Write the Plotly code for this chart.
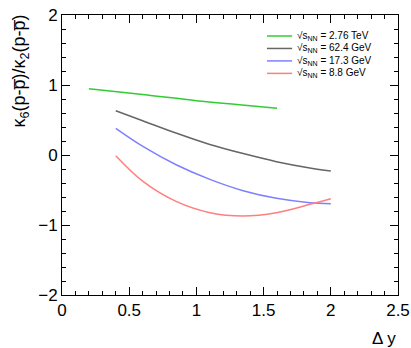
import plotly.graph_objects as go

# data
dy_green = [0.2, 0.6, 1.0, 1.3, 1.6]
k_green = [0.947, 0.865, 0.775, 0.72, 0.667]

dy_gray = [0.4, 0.605, 0.853, 1.1, 1.348, 1.596, 1.844, 2.0]
k_gray = [0.633, 0.486, 0.31, 0.15, 0.02, -0.095, -0.185, -0.229]

dy_blue = [0.4, 0.605, 0.853, 1.1, 1.348, 1.596, 1.844, 2.0]
k_blue = [0.381, 0.119, -0.143, -0.348, -0.51, -0.619, -0.681, -0.695]

dy_red = [0.4, 0.605, 0.853, 1.1, 1.348, 1.596, 1.844, 2.0]
k_red = [-0.01, -0.381, -0.667, -0.824, -0.871, -0.824, -0.705, -0.624]

labels = ["√s<sub>NN</sub> = 2.76 TeV", "√s<sub>NN</sub> = 62.4 GeV",
          "√s<sub>NN</sub> = 17.3 GeV", "√s<sub>NN</sub> = 8.8 GeV"]
colors = ["#33cc33", "#666666", "#7f7fff", "#ff7f7f"]
xs_all = [dy_green, dy_gray, dy_blue, dy_red]
ys_all = [k_green, k_gray, k_blue, k_red]

fig = go.Figure()
for name, xs, ys, col in zip(labels, xs_all, ys_all, colors):
    fig.add_trace(go.Scatter(
        x=xs, y=ys, mode="lines", name=name, showlegend=False,
        line=dict(color=col, width=1.5, shape="spline", smoothing=1.0),
    ))

# hand-built legend (ROOT style, tight rows)
leg_y0, leg_step = 0.925, 0.0445
for i, (name, col) in enumerate(zip(labels, colors)):
    yy = leg_y0 - i * leg_step
    fig.add_shape(type="line", xref="paper", yref="paper",
                  x0=0.610, x1=0.685, y0=yy, y1=yy,
                  line=dict(color=col, width=1.5))
    fig.add_annotation(text=name, xref="paper", yref="paper",
                       x=0.693, y=yy, xanchor="left", yanchor="middle",
                       showarrow=False, font=dict(size=10, color="black"))

axis_common = dict(
    showgrid=False, zeroline=False, showline=True, linecolor="black",
    linewidth=1, mirror="allticks", ticks="inside", ticklen=8,
    tickcolor="black", tickfont=dict(size=17, color="black"),
    automargin=False,
)

fig.update_xaxes(
    range=[0, 2.5], tick0=0, dtick=0.5, **axis_common,
    minor=dict(ticks="inside", ticklen=4, dtick=0.1, tickcolor="black"),
)
fig.update_yaxes(
    range=[-2, 2], tick0=-2, dtick=1, **axis_common,
    minor=dict(ticks="inside", ticklen=4, dtick=0.2, tickcolor="black"),
)

fig.add_annotation(
    text="κ<sub>6</sub>(p-p\u0305)/κ<sub>2</sub>(p-p\u0305)",
    xref="paper", yref="paper", x=-0.122, y=1.007,
    xanchor="center", yanchor="top", textangle=-90,
    showarrow=False, font=dict(size=18, color="black"),
)
fig.add_annotation(
    text="Δ y", xref="paper", yref="paper", x=1.0, y=-0.115,
    xanchor="right", yanchor="top", showarrow=False,
    font=dict(size=17, color="black"),
)

fig.update_layout(
    width=411, height=348,
    paper_bgcolor="white", plot_bgcolor="white",
    font=dict(family="Liberation Sans, Arial, sans-serif", color="black"),
    margin=dict(l=62, r=13, t=15, b=53),
    showlegend=False,
)

fig.write_html("out.html", config={"displayModeBar": False},
               post_script="document.body.style.margin='0';")
